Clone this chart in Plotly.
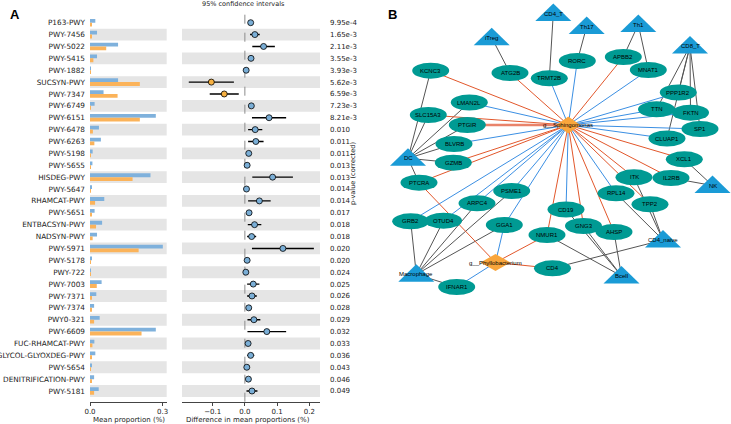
import plotly.graph_objects as go

# ---------------- Panel A data ----------------
pathways = ["P163-PWY", "PWY-7456", "PWY-5022", "PWY-5415", "PWY-1882", "SUCSYN-PWY",
            "PWY-7347", "PWY-6749", "PWY-6151", "PWY-6478", "PWY-6263", "PWY-5198",
            "PWY-5655", "HISDEG-PWY", "PWY-5647", "RHAMCAT-PWY", "PWY-5651",
            "ENTBACSYN-PWY", "NADSYN-PWY", "PWY-5971", "PWY-5178", "PWY-722",
            "PWY-7003", "PWY-7371", "PWY-7374", "PWY0-321", "PWY-6609",
            "FUC-RHAMCAT-PWY", "GLYCOL-GLYOXDEG-PWY", "PWY-5654",
            "DENITRIFICATION-PWY", "PWY-5181"]
mean_group1 = [0.022, 0.029, 0.116, 0.029, 0.003, 0.116, 0.056, 0.019, 0.272, 0.037,
               0.045, 0.011, 0.010, 0.250, 0.007, 0.059, 0.019, 0.050, 0.029, 0.301,
               0.007, 0.003, 0.048, 0.026, 0.017, 0.040, 0.272, 0.018, 0.022, 0.007,
               0.017, 0.036]
mean_group2 = [0.008, 0.005, 0.067, 0.014, 0.001, 0.206, 0.114, 0.002, 0.206, 0.012,
               0.018, 0.001, 0.003, 0.176, 0.001, 0.021, 0.008, 0.025, 0.011, 0.201,
               0.003, 0.001, 0.028, 0.008, 0.007, 0.017, 0.213, 0.010, 0.007, 0.003,
               0.007, 0.017]
diff_mean = [0.018, 0.031, 0.058, 0.019, 0.004, -0.104, -0.064, 0.020, 0.075, 0.032,
             0.034, 0.012, 0.007, 0.086, 0.005, 0.045, 0.013, 0.030, 0.021, 0.118,
             0.007, 0.003, 0.026, 0.022, 0.012, 0.028, 0.068, 0.010, 0.018, 0.006,
             0.011, 0.022]
ci_half = [0.004, 0.015, 0.035, 0.008, 0.002, 0.070, 0.045, 0.008, 0.053, 0.022,
           0.024, 0.005, 0.003, 0.063, 0.002, 0.035, 0.006, 0.021, 0.014, 0.096,
           0.003, 0.002, 0.019, 0.015, 0.006, 0.020, 0.060, 0.004, 0.011, 0.002,
           0.004, 0.017]
p_values = ["9.95e-4", "1.65e-3", "2.11e-3", "3.55e-3", "3.93e-3", "5.62e-3", "6.59e-3",
            "7.23e-3", "8.21e-3", "0.010", "0.011", "0.011", "0.013", "0.013", "0.014",
            "0.014", "0.017", "0.018", "0.018", "0.020", "0.020", "0.024", "0.025",
            "0.026", "0.028", "0.029", "0.032", "0.033", "0.036", "0.043", "0.046",
            "0.049"]
bar_ticks = [0.0, 0.3]
bar_ticktext = ["0.0", "0.3"]
diff_ticks = [-0.1, 0.0, 0.1, 0.2]
diff_ticktext = ["\u22120.1", "0.0", "0.1", "0.2"]

# ---------------- Panel B data (network) ----------------
cell_types = ["CD4_T", "Th17", "Th1", "iTreg", "CD8_T", "DC", "NK", "CD4_naive", "Bcell", "Macrophage"]
genes = ["KCNC3", "ATG2B", "TRMT2B", "RORC", "APBB2", "MNAT1", "PPP1R2", "LMAN2L", "SLC15A3",
         "TTN", "FKTN", "PTGIR", "SP1", "CLUAP1", "BLVRB", "GZMB", "XCL1", "PTCRA", "ITK",
         "IL2RB", "PSME1", "RPL14", "TPP2", "ARPC4", "CD19", "GRB2", "OTUD4", "GGA1",
         "NMUR1", "GNG3", "AHSP", "CD4", "IFNAR1"]
genera = ["g__Sphingomonas", "g__Phyllobacterium"]

edges_positive = [("g__Sphingomonas", g) for g in
                  ["KCNC3", "ATG2B", "APBB2", "SLC15A3", "GZMB", "PTCRA", "XCL1", "IL2RB",
                   "ITK", "TPP2", "NMUR1", "GNG3", "AHSP"]] + \
                 [("g__Phyllobacterium", g) for g in ["PTCRA", "NMUR1", "CD4"]]
edges_strong = [("g__Sphingomonas", "PTGIR")]
edges_negative = [("g__Sphingomonas", g) for g in
                  ["TRMT2B", "RORC", "MNAT1", "PPP1R2", "TTN", "FKTN", "SP1", "CLUAP1",
                   "LMAN2L", "BLVRB", "RPL14", "CD19", "PSME1", "ARPC4", "GRB2", "OTUD4",
                   "GGA1"]] + \
                 [("g__Phyllobacterium", g) for g in ["GGA1", "IFNAR1"]]
edges_cell = [("iTreg", "ATG2B"), ("CD4_T", "TRMT2B"), ("Th17", "RORC"), ("Th1", "APBB2"),
              ("Th1", "MNAT1"), ("CD8_T", "PPP1R2"), ("CD8_T", "TTN"), ("CD8_T", "FKTN"),
              ("CD8_T", "CLUAP1"), ("CD8_T", "SP1"),
              ("DC", "KCNC3"), ("DC", "SLC15A3"), ("DC", "LMAN2L"), ("DC", "PTGIR"),
              ("DC", "BLVRB"), ("DC", "GZMB"), ("DC", "PTCRA"),
              ("NK", "XCL1"), ("NK", "IL2RB"),
              ("CD4_naive", "ITK"), ("CD4_naive", "TPP2"), ("CD4_naive", "RPL14"), ("CD4_naive", "CD4"),
              ("Bcell", "GNG3"), ("Bcell", "CD19"), ("Bcell", "AHSP"), ("Bcell", "NMUR1"),
              ("Macrophage", "GRB2"), ("Macrophage", "OTUD4"), ("Macrophage", "ARPC4"),
              ("Macrophage", "PSME1"), ("Macrophage", "GGA1"), ("Macrophage", "IFNAR1")]

# network layout (node placement in the drawing area, pixel-like units)
node_layout = {
    "CD4_T": (553.3, 13.5), "Th17": (586.7, 26.5), "Th1": (638.3, 24.5), "iTreg": (491.7, 37.7),
    "CD8_T": (690.0, 46.0), "DC": (408.0, 158.3), "NK": (712.5, 185.5),
    "CD4_naive": (663.0, 240.0), "Bcell": (621.5, 276.0), "Macrophage": (416.3, 274.3),
    "KCNC3": (430.7, 70.7), "ATG2B": (510.0, 73.0), "TRMT2B": (549.3, 78.3), "RORC": (577.3, 61.0),
    "APBB2": (623.3, 57.0), "MNAT1": (648.3, 70.0), "PPP1R2": (678.3, 92.5),
    "LMAN2L": (469.3, 102.5), "SLC15A3": (428.3, 115.0), "TTN": (656.5, 109.3),
    "FKTN": (690.5, 112.7), "PTGIR": (467.3, 125.0), "SP1": (700.0, 129.0),
    "CLUAP1": (667.0, 138.5), "BLVRB": (454.0, 144.0), "GZMB": (453.3, 162.7),
    "XCL1": (684.3, 159.3), "PTCRA": (419.0, 182.7), "ITK": (634.0, 177.3),
    "IL2RB": (671.0, 178.0), "PSME1": (511.7, 191.0), "RPL14": (616.0, 193.3),
    "TPP2": (650.0, 204.3), "ARPC4": (477.0, 203.3), "CD19": (566.0, 209.5),
    "GRB2": (410.7, 221.3), "OTUD4": (443.5, 220.7), "GGA1": (504.3, 225.0),
    "NMUR1": (547.0, 235.0), "GNG3": (583.5, 226.0), "AHSP": (614.0, 232.0),
    "CD4": (552.5, 268.3), "IFNAR1": (456.7, 287.0),
    "g__Sphingomonas": (568.3, 125.0), "g__Phyllobacterium": (495.5, 262.5),
}

# ---------------- styles ----------------
W, H = 731, 424
BLUE = "#7fb1dc"
ORANGE = "#fbb35a"
DOT_BLUE = "#7aaed6"
DOT_ORANGE = "#f6b041"
BAND = "#e5e5e5"
TXT = "#222222"
TEAL = "#009a93"
TRI = "#1a9bd6"
DIA = "#f9a63c"
E_RED = "#e2572b"
E_BLUE = "#3b8fe3"
E_GRAY = "#555555"

def px_x(p):
    return p / W

def px_y(p):
    return 1 - p / H

rows = list(range(len(pathways)))
y_dom = [px_y(401.7), px_y(12)]
y_rng = [31.9, -0.9]

fig = go.Figure()

# Panel A: mean proportions
fig.add_trace(go.Bar(y=rows, x=mean_group1, orientation="h", marker_color=BLUE,
                     marker_line_width=0, xaxis="x", yaxis="y", showlegend=False))
fig.add_trace(go.Bar(y=rows, x=mean_group2, orientation="h", marker_color=ORANGE,
                     marker_line_width=0, xaxis="x", yaxis="y", showlegend=False))

# Panel A: differences with CI
fig.add_trace(go.Scatter(
    x=diff_mean, y=rows, mode="markers", xaxis="x2", yaxis="y2", showlegend=False,
    marker=dict(size=6, color=[DOT_ORANGE if d < 0 else DOT_BLUE for d in diff_mean],
                line=dict(color="black", width=0.8)),
    error_x=dict(type="data", array=ci_half, symmetric=True, color="black",
                 thickness=1.4, width=0)))

shapes = []
for i in rows:
    if i % 2 == 1:
        for xr, yr in (("x domain", "y"), ("x2 domain", "y2")):
            shapes.append(dict(type="rect", xref=xr, yref=yr, x0=0, x1=1,
                               y0=i - 0.5, y1=i + 0.5, fillcolor=BAND,
                               line=dict(width=0), layer="below"))
shapes.append(dict(type="line", xref="x2", yref="y2 domain", x0=0, x1=0, y0=0, y1=1,
                   line=dict(color="#8c8c8c", width=1, dash="dash"), layer="below"))

# Panel B: network edges
def edge_trace(edge_list, color, width):
    xs, ys = [], []
    for a, b in edge_list:
        xa, ya = node_layout[a]
        xb, yb = node_layout[b]
        xs += [xa, xb, None]
        ys += [ya, yb, None]
    return go.Scatter(x=xs, y=ys, mode="lines", line=dict(color=color, width=width),
                      xaxis="x3", yaxis="y3", hoverinfo="skip", showlegend=False)

fig.add_trace(edge_trace(edges_cell, E_GRAY, 1))
fig.add_trace(edge_trace(edges_negative, E_BLUE, 1))
fig.add_trace(edge_trace(edges_positive, E_RED, 1))
fig.add_trace(edge_trace(edges_strong, "#e9836a", 2.6))

annotations = []
NFONT = dict(family="Liberation Sans, Arial", size=6, color="black")
EW, EH = 18.5, 8.0
for g in genes:
    cx, cy = node_layout[g]
    shapes.append(dict(type="circle", xref="x3", yref="y3", x0=cx - EW, x1=cx + EW,
                       y0=cy - EH, y1=cy + EH, fillcolor=TEAL, line=dict(width=0),
                       layer="above"))
    annotations.append(dict(x=cx, y=cy, xref="x3", yref="y3", text=g, showarrow=False,
                            xanchor="center", yanchor="middle", font=NFONT))
for c in cell_types:
    cx, cy = node_layout[c]
    path = f"M {cx} {cy - 10} L {cx + 18} {cy + 7.5} L {cx - 18} {cy + 7.5} Z"
    shapes.append(dict(type="path", xref="x3", yref="y3", path=path, fillcolor=TRI,
                       line=dict(width=0), layer="above"))
    annotations.append(dict(x=cx, y=cy, xref="x3", yref="y3", text=c, showarrow=False,
                            xanchor="center", yanchor="middle", font=NFONT))
for g, hw in zip(genera, (12, 15)):
    cx, cy = node_layout[g]
    path = f"M {cx} {cy - 8.5} L {cx + hw} {cy} L {cx} {cy + 8.5} L {cx - hw} {cy} Z"
    shapes.append(dict(type="path", xref="x3", yref="y3", path=path, fillcolor=DIA,
                       line=dict(width=0), layer="above"))
    annotations.append(dict(x=cx, y=cy, xref="x3", yref="y3", text=g, showarrow=False,
                            xanchor="center", yanchor="middle", font=NFONT))

# panel letters and titles
def paper_text(x, y, text, font, angle=0):
    return dict(x=px_x(x), y=px_y(y), xref="paper", yref="paper", text=text,
                showarrow=False, xanchor="center", yanchor="middle", textangle=angle,
                font=font)

BIG = dict(family="Liberation Sans, Arial", size=13, color="black")
annotations += [
    paper_text(15, 14, "<b>A</b>", BIG),
    paper_text(392.5, 14, "<b>B</b>", BIG),
    paper_text(243, 4.5, "95% confidence intervals", dict(size=6.5, color=TXT)),
    paper_text(353, 174, "p-value (corrected)", dict(size=6.6, color=TXT), angle=-90),
    paper_text(128.5, 420, "Mean proportion (%)", dict(size=7, color=TXT)),
    paper_text(248, 420, "Difference in mean proportions (%)", dict(size=7, color=TXT)),
]

fig.update_layout(
    width=W, height=H, autosize=False,
    margin=dict(l=0, r=0, t=0, b=0, autoexpand=False),
    paper_bgcolor="white", plot_bgcolor="white",
    font=dict(family="DejaVu Sans", size=7.5, color=TXT),
    barmode="group", bargap=0.36, bargroupgap=0,
    shapes=shapes, annotations=annotations,
    xaxis=dict(domain=[px_x(90), px_x(166.7)], range=[0, 0.317], anchor="y",
               tickvals=bar_ticks, ticktext=bar_ticktext, ticks="outside", ticklen=3,
               tickcolor="#444", showline=True, linecolor="#444", linewidth=0.8,
               showgrid=False, zeroline=False, tickfont=dict(size=7), automargin=False),
    yaxis=dict(domain=y_dom, range=y_rng, anchor="x", tickvals=rows, ticktext=pathways,
               ticks="", showgrid=False, zeroline=False, showline=False,
               ticklabelstandoff=4, tickfont=dict(size=7.3), automargin=False),
    xaxis2=dict(domain=[px_x(182), px_x(320)], range=[-0.195, 0.233], anchor="y2",
                tickvals=diff_ticks, ticktext=diff_ticktext, ticks="outside", ticklen=3,
                tickcolor="#444", showline=True, linecolor="#444", linewidth=0.8,
                showgrid=False, zeroline=False, tickfont=dict(size=7), automargin=False),
    yaxis2=dict(domain=y_dom, range=y_rng, anchor="x2", side="right", tickvals=rows,
                ticktext=p_values, ticks="", showgrid=False, zeroline=False,
                showline=False, ticklabelstandoff=9, tickfont=dict(size=7.0),
                automargin=False),
    xaxis3=dict(domain=[px_x(380), 1], range=[380, 731], anchor="y3", visible=False,
                fixedrange=True, automargin=False),
    yaxis3=dict(domain=[0, 1], range=[424, 0], anchor="x3", visible=False, fixedrange=True,
                automargin=False),
)

fig.write_html("out.html", config={"displayModeBar": False},
               post_script="document.body.style.margin='0';")
